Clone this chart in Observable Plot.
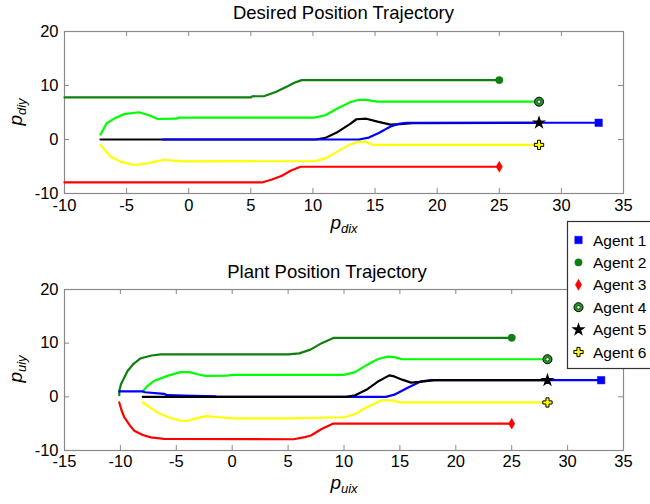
<!DOCTYPE html>
<html><head><meta charset="utf-8">
<script src="https://cdn.jsdelivr.net/npm/d3@7"></script>
<script src="https://cdn.jsdelivr.net/npm/@observablehq/plot@0.6"></script>
<style>
html,body{margin:0;padding:0;background:#fff;overflow:hidden}
#wrap{position:relative;width:650px;height:504px;overflow:hidden;font-family:"Liberation Sans",Arial,Helvetica,sans-serif}
#wrap > svg{position:absolute;left:0}
</style></head><body><div id="wrap"></div>
<script>
// ---------- data ----------
const agents = ["Agent 1", "Agent 2", "Agent 3", "Agent 4", "Agent 5", "Agent 6"];
const agentColors = ["#0000ff", "#0f7f0f", "#ff0000", "#00ff00", "#000000", "#ffff00"];
const titles = ["Desired Position Trajectory", "Plant Position Trajectory"];
const xTicksDesired = [-10, -5, 0, 5, 10, 15, 20, 25, 30, 35];
const xTicksPlant = [-15, -10, -5, 0, 5, 10, 15, 20, 25, 30, 35];
const yTicks = [-10, 0, 10, 20];

// Desired trajectories [x, y]
const desiredAgent1 = [[-2.1,0],[13.7,0],[14.5,0.35],[15.3,1.2],[16.25,2.4],[16.9,2.9],[17.5,3.1],[33,3.1]];
const desiredAgent2 = [[-10,7.8],[5,7.8],[5.1,8.0],[6.1,8.05],[7,8.8],[8,9.9],[8.5,10.5],[9.1,11.0],[25,11.0]];
const desiredAgent3 = [[-10,-7.95],[5.9,-7.95],[6.7,-7.4],[7.5,-6.7],[8.2,-5.8],[9.0,-5.05],[25,-5.05]];
const desiredAgent4 = [[-7.1,0.9],[-6.6,3.0],[-5.9,4.0],[-5.2,4.7],[-4.0,5.05],[-3.2,4.5],[-2.5,3.8],[-1.0,3.85],[-0.8,4.05],[10.1,4.05],[11,4.5],[12,5.8],[13,6.9],[13.7,7.35],[14.3,7.35],[15.2,7.0],[28.2,7.0]];
const desiredAgent5 = [[-7.1,0],[10.2,0],[11,0.3],[12,1.4],[13,2.9],[13.5,3.75],[14.3,3.85],[15.2,3.3],[16.25,2.75],[17,2.85],[18,3.05],[28.2,3.1]];
const desiredAgent6 = [[-7.1,-1.0],[-6.3,-3.15],[-5.4,-4.2],[-4.4,-4.7],[-3.5,-4.5],[-2.5,-4.0],[-2.0,-3.75],[-1.2,-3.9],[-0.4,-4.05],[10.2,-4.0],[11,-3.5],[12,-2.2],[13,-0.9],[13.7,-0.4],[14.3,-0.45],[14.8,-1.0],[28.2,-1.0]];

// Plant trajectories [x, y]
const plantAgent1 = [[-10.1,1.0],[-8.0,1.0],[-7.8,0.85],[-6.1,0.55],[-5.8,0.3],[-4.3,0.25],[-1.5,0.1],[-1.4,0],[13.75,0],[14.5,0.4],[15.7,1.7],[16.9,2.9],[17.8,3.1],[33,3.1]];
const plantAgent2 = [[-10.1,0.3],[-10.1,1.1],[-9.95,2.35],[-9.36,4.8],[-8.8,6.2],[-8.17,7.2],[-7.2,7.7],[-6.4,7.9],[5.0,7.9],[6.0,8.1],[7.0,8.8],[8.0,10.0],[9.1,11.0],[25,11.0]];
const plantAgent3 = [[-10.1,-1.05],[-9.9,-2.5],[-9.66,-3.8],[-9.2,-5.2],[-8.77,-6.3],[-8.0,-7.1],[-7.27,-7.55],[-6.1,-7.85],[5.5,-7.9],[6.5,-7.5],[7.04,-7.2],[8.0,-6.0],[9.0,-5.0],[25,-5.0]];
const plantAgent4 = [[-8.0,1.0],[-7.6,2.0],[-7.0,2.95],[-5.8,3.9],[-4.6,4.6],[-3.8,4.6],[-3.1,4.2],[-2.4,3.9],[-0.5,3.95],[0,4.1],[10.0,4.1],[11,4.6],[12,5.9],[13,7.0],[13.9,7.5],[14.5,7.4],[15.2,7.0],[28.2,7.0]];
const plantAgent5 = [[-8.0,0],[10.2,0],[11,0.3],[12,1.3],[13,2.8],[14.05,4.0],[14.5,3.8],[15.2,3.2],[16.0,2.65],[16.8,2.8],[18.1,3.1],[28.2,3.1]];
const plantAgent6 = [[-8.0,-1.05],[-6.7,-2.9],[-5.6,-3.9],[-4.6,-4.45],[-4.0,-4.5],[-3.4,-4.1],[-2.3,-3.6],[-1.2,-3.8],[0,-4.0],[5.0,-4.0],[10.0,-3.8],[11,-3.2],[12,-2.0],[13.45,-0.6],[14.5,-0.7],[14.9,-1.05],[28.2,-1.05]];

const desired = [desiredAgent1, desiredAgent2, desiredAgent3, desiredAgent4, desiredAgent5, desiredAgent6];
const plant = [plantAgent1, plantAgent2, plantAgent3, plantAgent4, plantAgent5, plantAgent6];
// drawing order (indices into agents): later is on top
const desiredOrder = [1, 3, 2, 5, 4, 0];
const plantOrder = [1, 3, 2, 5, 0, 4];

// ---------- helpers ----------
const markerSpec = [
  {symbol: "square", r: 4.2, fill: "#0000ff", stroke: "#0000ff", strokeWidth: 0.5},
  {symbol: "circle", r: 3.7, fill: "#0f7f0f", stroke: "#0f7f0f", strokeWidth: 0.5},
  {symbol: "diamond", r: 3.3, fill: "#ff0000", stroke: "#ff0000", strokeWidth: 0.5},
  {symbol: "circle", r: 4.5, fill: "#1f9a1f", stroke: "#000", strokeWidth: 1},
  {symbol: "star", r: 3.3, fill: "#000", stroke: "#000", strokeWidth: 1.2},
  {symbol: "cross", r: 3.9, fill: "#ffff00", stroke: "#000", strokeWidth: 1}
];

function rowsFor(sets, order) {
  return order.flatMap(i => sets[i].map(([x, y]) => ({agent: agents[i], x, y})));
}

function makePlot(sets, order, xDomain, xTicks, mt, mb, pad) {
  const W = 650, H = 252, ml = 64, mr = 27;
  const innerW = W - ml - mr, innerH = H - mt - mb;
  const rows = rowsFor(sets, order);
  const marks = [
    Plot.frame({stroke: "#8a8a8a", strokeWidth: 1.2}),
    Plot.tickX(xTicks, {x: d => d, stroke: "#8a8a8a", insetTop: innerH - 5}),
    Plot.tickX(xTicks, {x: d => d, stroke: "#8a8a8a", insetBottom: innerH - 5}),
    Plot.tickY(yTicks, {y: d => d, stroke: "#8a8a8a", insetRight: innerW - 5}),
    Plot.tickY(yTicks, {y: d => d, stroke: "#8a8a8a", insetLeft: innerW - 5}),
    Plot.axisX({ticks: xTicks, tickSize: 0, tickPadding: pad, tickFormat: d => String(d), fontSize: 16.5, label: null}),
    Plot.axisY({ticks: yTicks, tickSize: 0, tickPadding: 6, tickFormat: d => String(d), fontSize: 16.5, label: null}),
    Plot.line(rows, {x: "x", y: "y", z: "agent", stroke: "agent", strokeWidth: 2.2, strokeLinejoin: "round"})
  ];
  for (const i of order) {
    const end = [sets[i][sets[i].length - 1]];
    const m = markerSpec[i];
    marks.push(Plot.dot(end, {x: d => d[0], y: d => d[1], symbol: m.symbol, r: m.r, fill: m.fill, stroke: m.stroke, strokeWidth: m.strokeWidth}));
    if (i === 3) marks.push(Plot.dot(end, {x: d => d[0], y: d => d[1], r: 1.7, fill: "#fff", stroke: "#000", strokeWidth: 0.6}));
  }
  return Plot.plot({
    width: W, height: H, marginTop: mt, marginBottom: mb, marginLeft: ml, marginRight: mr,
    x: {domain: xDomain, axis: null},
    y: {domain: [-10, 20], axis: null},
    color: {domain: agents, range: agentColors},
    style: {fontFamily: '"Liberation Sans", Arial, Helvetica, sans-serif', fontSize: "16.5px", color: "#000", background: "transparent", overflow: "visible"},
    marks
  });
}

const wrap = document.getElementById("wrap");
const top1 = makePlot(desired, desiredOrder, [-10, 35], xTicksDesired, 31, 59, 6);
top1.style.top = "0px";
wrap.appendChild(top1);
const bot1 = makePlot(plant, plantOrder, [-15, 35], xTicksPlant, 37, 54, 5);
bot1.style.top = "252px";
wrap.appendChild(bot1);

// ---------- overlay: titles, axis labels, legend ----------
const ov = d3.select(wrap).append("svg")
  .attr("width", 650).attr("height", 504).style("top", "0px")
  .style("font-family", '"Liberation Sans", Arial, Helvetica, sans-serif');

ov.append("text").attr("x", 343.5).attr("y", 19).attr("text-anchor", "middle")
  .attr("font-size", 18.5).text(titles[0]);
ov.append("text").attr("x", 327).attr("y", 278).attr("text-anchor", "middle")
  .attr("font-size", 18.5).text(titles[1]);

function subLabel(g, main, sub) {
  const t = g.append("text").attr("text-anchor", "middle").attr("font-style", "italic");
  t.append("tspan").attr("font-size", 19).text(main);
  t.append("tspan").attr("font-size", 13).attr("dy", 4).text(sub);
}
subLabel(ov.append("g").attr("transform", "translate(344,229)"), "p", "dix");
subLabel(ov.append("g").attr("transform", "translate(344,489)"), "p", "uix");
subLabel(ov.append("g").attr("transform", "translate(22,112) rotate(-90)"), "p", "diy");
subLabel(ov.append("g").attr("transform", "translate(22,369) rotate(-90)"), "p", "uiy");

// legend
const lg = ov.append("g");
lg.append("rect").attr("x", 567.5).attr("y", 221.5).attr("width", 110).attr("height", 147)
  .attr("fill", "#fff").attr("stroke", "#333").attr("stroke-width", 1.2);
const symMap = {square: d3.symbolSquare, circle: d3.symbolCircle, diamond: d3.symbolDiamond, star: d3.symbolStar, cross: d3.symbolCross};
agents.forEach((name, i) => {
  const cy = 240 + i * 22.4;
  const m = markerSpec[i];
  lg.append("path").attr("transform", `translate(578.5,${cy})`)
    .attr("d", d3.symbol(symMap[m.symbol], Math.PI * m.r * m.r)())
    .attr("fill", m.fill).attr("stroke", m.stroke).attr("stroke-width", m.strokeWidth);
  if (i === 3) lg.append("circle").attr("cx", 578.5).attr("cy", cy).attr("r", 1.7)
    .attr("fill", "#fff").attr("stroke", "#000").attr("stroke-width", 0.6);
  lg.append("text").attr("x", 593).attr("y", cy + 5.5).attr("font-size", 15.5).text(name);
});
</script></body></html>
